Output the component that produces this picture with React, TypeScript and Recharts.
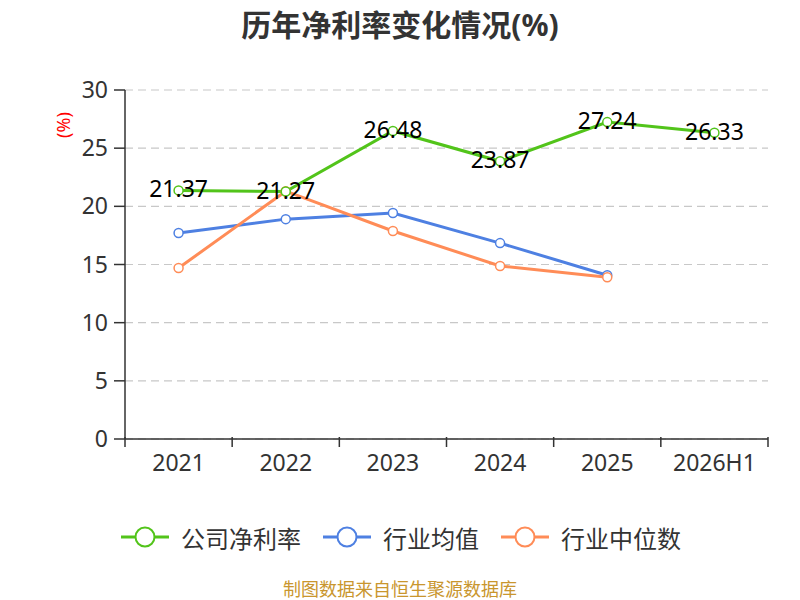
import React from 'react';
import {
  LineChart,
  Line,
  XAxis,
  YAxis,
  CartesianGrid,
  LabelList,
} from 'recharts';

const years = ['2021', '2022', '2023', '2024', '2025', '2026H1'];
const companyRate = [21.37, 21.27, 26.48, 23.87, 27.24, 26.33];
const industryAvg = [17.71, 18.9, 19.42, 16.84, 14.08, null];
const industryMedian = [14.7, 21.3, 17.88, 14.87, 13.9, null];
const yTicks = [0, 5, 10, 15, 20, 25, 30];

const GREEN = '#52c41a';
const BLUE = '#4e80e2';
const ORANGE = '#ff8c57';

const data = years.map((year, i) => ({
  year,
  company: companyRate[i],
  avg: industryAvg[i],
  median: industryMedian[i],
}));

const legendItems = [
  { name: '公司净利率', color: GREEN },
  { name: '行业均值', color: BLUE },
  { name: '行业中位数', color: ORANGE },
];

const HALF_BAND = 643 / 6 / 2;

const XTick = (props: any) => {
  const { x, y, payload, index } = props;
  const top = y - 10;
  return (
    <g>
      <line x1={x - HALF_BAND} y1={top} x2={x - HALF_BAND} y2={top + 10} stroke="#333" strokeWidth={1.5} />
      {index === years.length - 1 && (
        <line x1={x + HALF_BAND} y1={top} x2={x + HALF_BAND} y2={top + 10} stroke="#333" strokeWidth={1.5} />
      )}
      <text x={x} y={top + 34} textAnchor="middle" fontSize={23} fill="#333">
        {payload.value}
      </text>
    </g>
  );
};

const ValueLabel = (props: any) => {
  const { x, y, value } = props;
  return (
    <text x={x} y={y + 7} textAnchor="middle" fontSize={23} fill="#000">
      {value}
    </text>
  );
};

const dot = (color: string) => ({ r: 4.5, fill: '#fff', stroke: color, strokeWidth: 1.5 });

export default function App() {
  const font = '"Noto Sans", "Noto Sans CJK SC", sans-serif';
  return (
    <div style={{ position: 'fixed', left: 0, top: 0, width: 800, height: 600, background: '#fff', fontFamily: font, overflow: 'hidden' }}>
      <div style={{ position: 'absolute', top: 1, width: 800, textAlign: 'center', fontSize: 30, fontWeight: 'bold', color: '#333' }}>
        历年净利率变化情况(%)
      </div>
      <div
        style={{
          position: 'absolute',
          left: 43,
          top: 113,
          color: 'red',
          fontSize: 18,
          lineHeight: '24px',
          transform: 'rotate(-90deg)',
          transformOrigin: 'center',
          width: 40,
          textAlign: 'center',
        }}
      >
        (%)
      </div>
      <LineChart width={800} height={600} data={data} margin={{ top: 90, right: 32, left: 0, bottom: 0 }} style={{ fontFamily: font }}>
        <CartesianGrid vertical={false} stroke="#c8c8c8" strokeDasharray="8 5" strokeWidth={1.2} />
        <XAxis
          dataKey="year"
          scale="band"
          height={161}
          stroke="#333"
          strokeWidth={1.5}
          tickLine={false}
          tick={<XTick />}
          interval={0}
        />
        <YAxis
          width={125}
          domain={[0, 30]}
          ticks={yTicks}
          stroke="#333"
          strokeWidth={1.5}
          tickSize={11}
          tick={{ fill: '#333', fontSize: 23 }}
          tickMargin={6}
        />
        <Line dataKey="avg" stroke={BLUE} strokeWidth={3} dot={dot(BLUE)} isAnimationActive={false} />
        <Line dataKey="median" stroke={ORANGE} strokeWidth={3} dot={dot(ORANGE)} isAnimationActive={false} />
        <Line dataKey="company" stroke={GREEN} strokeWidth={3} dot={dot(GREEN)} isAnimationActive={false}>
          <LabelList dataKey="company" content={<ValueLabel />} />
        </Line>
      </LineChart>
      <div style={{ position: 'absolute', top: 520, left: 121, display: 'flex', alignItems: 'center', height: 34 }}>
        {legendItems.map((item) => (
          <div key={item.name} style={{ display: 'flex', alignItems: 'center', marginRight: 22 }}>
            <svg width={48} height={24}>
              <line x1={0} y1={12} x2={48} y2={12} stroke={item.color} strokeWidth={3} />
              <circle cx={24} cy={12} r={9.5} fill="#fff" stroke={item.color} strokeWidth={2} />
            </svg>
            <span style={{ marginLeft: 12, fontSize: 24, color: '#333' }}>{item.name}</span>
          </div>
        ))}
      </div>
      <div style={{ position: 'absolute', top: 578, width: 800, textAlign: 'center', fontSize: 18, lineHeight: '22px', color: '#c9962e' }}>
        制图数据来自恒生聚源数据库
      </div>
    </div>
  );
}
